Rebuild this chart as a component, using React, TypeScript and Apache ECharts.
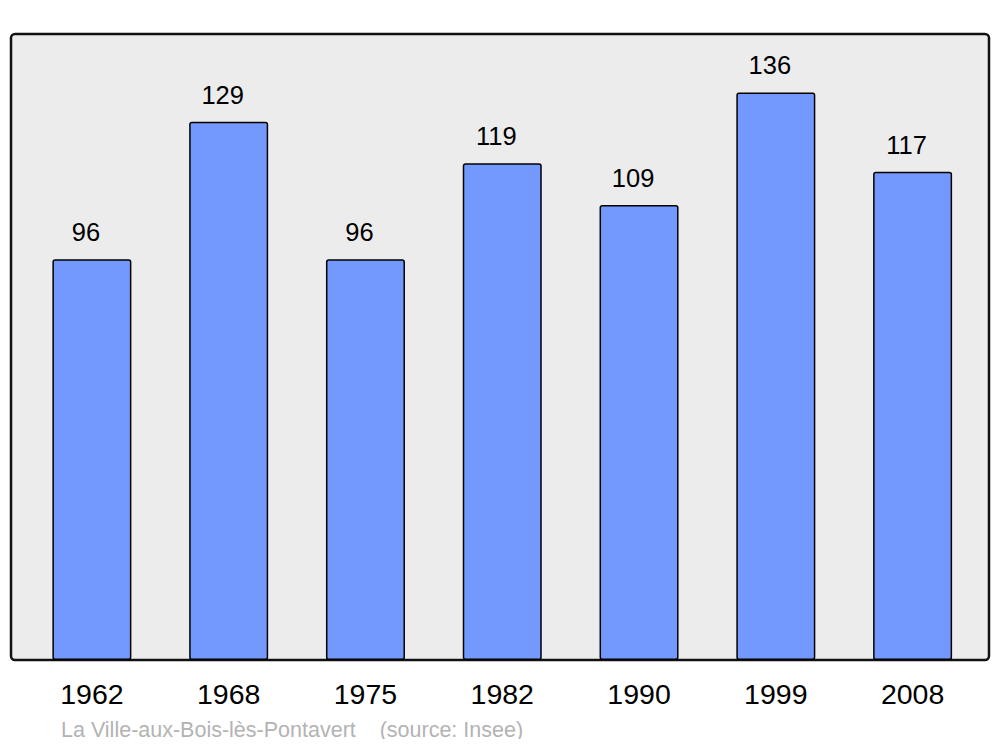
import React, { useEffect, useRef } from "react";
import * as echarts from "echarts";

const years = ["1962", "1968", "1975", "1982", "1990", "1999", "2008"];
const population = [96, 129, 96, 119, 109, 136, 117];
const yMax = 150;
const footer = "La Ville-aux-Bois-lès-Pontavert    (source: Insee)";

export default function App() {
  const ref = useRef<HTMLDivElement>(null);
  useEffect(() => {
    const chart = echarts.init(ref.current!, undefined, { renderer: "svg" });
    chart.setOption({
      animation: false,
      textStyle: { fontFamily: "Liberation Sans, Arial, sans-serif" },
      graphic: [
        {
          type: "rect",
          z: -10,
          shape: { x: 11, y: 34, width: 978, height: 626, r: 4 },
          style: { fill: "#ececec", stroke: "#111", lineWidth: 2.5 },
        },
        {
          type: "text",
          left: 61,
          top: 719,
          style: {
            text: footer,
            fill: "#b3b3b3",
            font: "21.5px 'Liberation Sans', Arial, sans-serif",
          },
        },
      ],
      grid: { left: 23.5, right: 19, top: 34, bottom: 87 },
      xAxis: {
        type: "category",
        data: years,
        boundaryGap: true,
        axisLine: { show: false },
        axisTick: { show: false },
        axisLabel: { color: "#000", fontSize: 28.5, margin: 19 },
      },
      yAxis: {
        type: "value",
        min: 0,
        max: yMax,
        show: false,
        splitLine: { show: false },
      },
      series: [
        {
          type: "bar",
          data: population,
          barWidth: 79,
          itemStyle: {
            color: "#7399ff",
            borderColor: "#000",
            borderWidth: 1.5,
            borderRadius: 2,
          },
          label: {
            show: true,
            position: "top",
            distance: 14,
            offset: [-6, 0],
            color: "#000",
            fontSize: 25.5,
          },
        },
      ],
    });
    return () => chart.dispose();
  }, []);
  return <div ref={ref} style={{ width: 1000, height: 747, margin: -8 }} />;
}
